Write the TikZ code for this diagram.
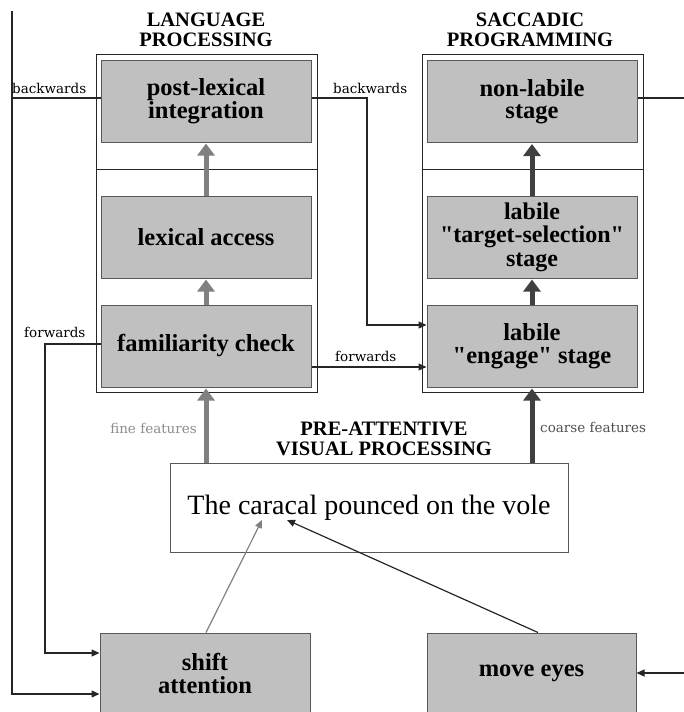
\documentclass[tikz,border=0pt]{standalone}
\usepackage{fontspec}
\setmainfont{Liberation Serif}
\newfontfamily\lblfont{DejaVu Serif}
\usetikzlibrary{arrows.meta}
\definecolor{boxfill}{HTML}{C0C0C0}
\definecolor{boxline}{HTML}{585858}
\definecolor{langarrow}{HTML}{808080}
\definecolor{sacarrow}{HTML}{404040}
\definecolor{finecol}{HTML}{8C8C8C}
\definecolor{coarsecol}{HTML}{505050}
\begin{document}
\begin{tikzpicture}[x=1pt,y=-1pt,
  stagebox/.style={draw=boxline, fill=boxfill, line width=1pt, minimum width=210pt, minimum height=82pt, inner sep=0pt, align=center, font=\bfseries\fontsize{24.5}{22.5}\selectfont},
  frame/.style={draw=black!85, line width=1pt, minimum width=221pt, minimum height=338pt, inner sep=0pt},
  head/.style={align=center, inner sep=0pt, font=\bfseries\fontsize{20.5}{20.5}\selectfont},
  small/.style={inner sep=0pt, font=\lblfont\fontsize{13.5}{14}\selectfont},
  thickgray/.style={line width=5pt, draw=langarrow, -{Triangle[width=17pt,length=12pt]}, shorten >=1pt},
  thickdark/.style={line width=5pt, draw=sacarrow, -{Triangle[width=17pt,length=12pt]}, shorten >=1pt},
  conn/.style={line width=1.2pt, draw=black!85},
  connarrow/.style={conn, -{Triangle[width=7pt,length=8pt]}},
]
\useasboundingbox (0,0) rectangle (683,712);

% frames
\node[frame] (langframe) at (206.5,223) {};
\node[frame] (sacframe) at (532.5,223) {};
\coordinate (divy) at (0,169);
\draw[line width=1pt, black!85] (langframe.west |- divy) -- (langframe.east |- divy);
\draw[line width=1pt, black!85] (sacframe.west |- divy) -- (sacframe.east |- divy);

% headers
\node[head] (langhead) at (206,30) {LANGUAGE\\PROCESSING};
\node[head] (sachead) at (530,30) {SACCADIC\\PROGRAMMING};
\node[head] (prehead) at (384,439) {PRE-ATTENTIVE\\VISUAL PROCESSING};

% stage boxes
\node[stagebox] (postlex) at (206,101) {post-lexical\\integration};
\node[stagebox] (lexacc) at (206,237) {lexical access};
\node[stagebox] (famcheck) at (206,346) {familiarity check};
\node[stagebox] (nonlab) at (532,101.5) {non-labile\\stage};
\node[stagebox, font=\bfseries\fontsize{24}{23.5}\selectfont] (target) at (532,237) {labile\\\textquotedbl target-selection\textquotedbl\\stage};
\node[stagebox] (engage) at (532,346) {labile\\\textquotedbl engage\textquotedbl{} stage};
\node[stagebox, minimum height=80pt, font=\bfseries\fontsize{24.5}{23}\selectfont] (shift) at (205,673) {shift\\attention};
\node[stagebox, minimum height=80pt, minimum width=209pt] (moveeyes) at (531.5,673) {move eyes};

% sentence
\node[draw=boxline, line width=1pt, minimum width=398pt, minimum height=89pt, inner sep=0pt, font=\fontsize{28}{30}\selectfont] (sentence) at (369,507.5) {The caracal pounced on the vole};

% thick arrows
\draw[thickgray] (lexacc.north) -- (postlex.south);
\draw[thickgray] (famcheck.north) -- (lexacc.south);
\draw[thickgray] (famcheck.south |- sentence.north) -- (famcheck.south);
\draw[thickdark] (target.north) -- (nonlab.south);
\draw[thickdark] (engage.north) -- (target.south);
\draw[thickdark] (engage.south |- sentence.north) -- (engage.south);

% feature labels
\node[small, text=finecol, anchor=base east] (finelbl) at (197,433) {fine features};
\node[small, text=coarsecol, anchor=base west] (coarselbl) at (540,432) {coarse features};

% left long line and backwards
\coordinate (ltop) at (12,11);
\coordinate (blw) at ([yshift=3pt]postlex.west);
\draw[conn] (blw) -- (blw -| ltop);
\draw[connarrow] (ltop) |- ([yshift=-21pt]shift.west);
\node[small, anchor=base west] (backl) at (12,93) {backwards};

% backwards right
\coordinate (bre) at ([yshift=3pt]postlex.east);
\coordinate (bx) at (367,0);
\coordinate (eb) at ([yshift=21pt]engage.west);
\draw[connarrow] (bre) -- (bre -| bx) -- (bx |- eb) -- (eb);
\node[small, anchor=base west] (backr) at (333,93) {backwards};

% forwards right
\draw[connarrow] ([yshift=-21pt]famcheck.east) -- ([yshift=-21pt]engage.west);
\node[small, anchor=base west] (fwdr) at (335,361) {forwards};

% forwards left
\coordinate (flw) at ([yshift=2pt]famcheck.west);
\coordinate (fx) at (45,0);
\coordinate (fs) at ([yshift=20pt]shift.west);
\draw[connarrow] (flw) -- (flw -| fx) -- (fx |- fs) -- (fs);
\node[small, anchor=base west] (fwdl) at (24,337) {forwards};

% right edge lines
\coordinate (redge) at (684,0);
\coordinate (nle) at ([yshift=3.5pt]nonlab.east);
\draw[conn] (nle) -- (nle -| redge);
\coordinate (me) at (moveeyes.east);
\draw[connarrow] (me -| redge) -- (me);

% attention / eye arrows to the sentence
\coordinate (caret1) at (262,520);
\coordinate (caret2) at (287,520);
\draw[line width=1.2pt, draw=langarrow, -{Triangle[width=7pt,length=8pt]}] ([xshift=1pt]shift.north) -- (caret1);
\draw[connarrow] ([xshift=6.5pt]moveeyes.north) -- (caret2);
\end{tikzpicture}
\end{document}
